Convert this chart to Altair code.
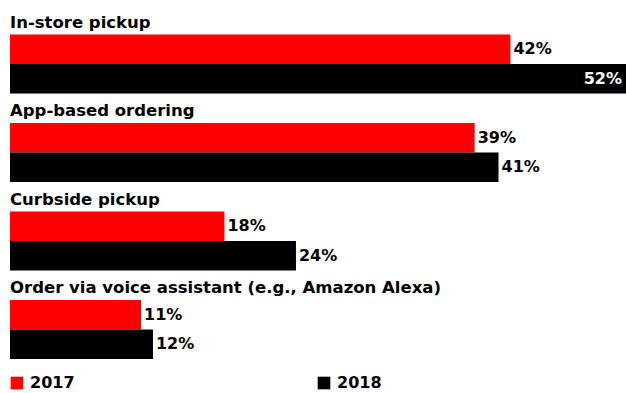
import altair as alt
import pandas as pd

categories = ["In-store pickup", "App-based ordering", "Curbside pickup",
              "Order via voice assistant (e.g., Amazon Alexa)"]
years = ["2017", "2018"]
values_2017 = [42, 39, 18, 11]
values_2018 = [52, 41, 24, 12]

slots = []
bar_rows = []
title_rows = []
for i, cat in enumerate(categories):
    t = f"{i}_t"
    slots += [t, f"{i}_2017", f"{i}_2018"]
    title_rows.append({"slot": t, "category": cat, "value": 0})
    for y, v in zip(years, [values_2017[i], values_2018[i]]):
        bar_rows.append({"slot": f"{i}_{y}", "category": cat, "year": y,
                         "value": v, "label": f"{v}%"})

bars_df = pd.DataFrame(bar_rows)
titles_df = pd.DataFrame(title_rows)

FONT = "DejaVu Sans"
yenc = alt.Y("slot:N", sort=slots, scale=alt.Scale(domain=slots, paddingInner=0, paddingOuter=0), axis=None)
xscale = alt.Scale(domain=[0, 51.7], nice=False, zero=True)

bars = alt.Chart(bars_df).mark_bar(clip=True, size=29.5).encode(
    x=alt.X("value:Q", scale=xscale, axis=None),
    y=yenc,
    color=alt.Color("year:N", scale=alt.Scale(domain=years, range=["#ff0000", "#000000"]),
                    legend=alt.Legend(title=None, orient="none", legendX=-1, legendY=370,
                                      direction="horizontal", columns=2, columnPadding=241,
                                      symbolType="square", symbolSize=160, symbolStrokeWidth=0,
                                      labelFont=FONT, labelFontWeight="bold", labelFontSize=16,
                                      labelColor="#000000", symbolOffset=0, labelOffset=5,
                                      padding=0)),
)

titles = alt.Chart(titles_df).mark_text(align="left", baseline="alphabetic", dy=8, font=FONT,
                                         fontWeight="bold", fontSize=16.5, color="#000000").encode(
    x=alt.X("value:Q", scale=xscale, axis=None),
    y=yenc,
    text="category:N",
)

labels_out = alt.Chart(bars_df).transform_filter("datum.value < 50").mark_text(
    align="left", baseline="middle", dx=3, font=FONT, fontWeight="bold", fontSize=16, color="#000000"
).encode(
    x=alt.X("value:Q", scale=xscale, axis=None),
    y=yenc,
    text="label:N",
)

labels_in = alt.Chart(bars_df).transform_filter("datum.value >= 50").mark_text(
    align="right", baseline="middle", x=612, font=FONT, fontWeight="bold", fontSize=16, color="#ffffff"
).encode(
    y=yenc,
    text="label:N",
)

chart = alt.layer(bars, titles, labels_out, labels_in).properties(
    width=616, height=354,
    autosize=alt.AutoSizeParams(type="none"),
    padding={"left": 10, "top": 5, "right": 0, "bottom": 34},
).configure(background="#ffffff").configure_view(stroke=None)

chart.save("out.html", embed_options={"renderer": "svg", "actions": False})
